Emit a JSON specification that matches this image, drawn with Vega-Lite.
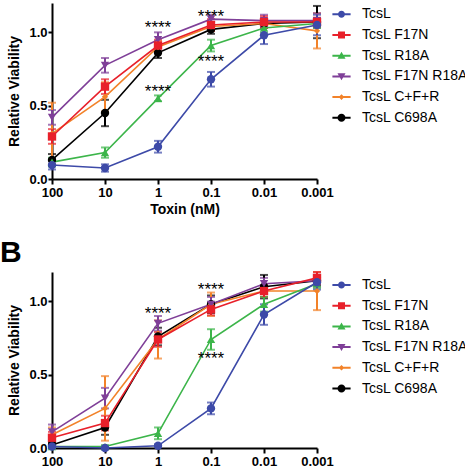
{
  "$schema": "https://vega.github.io/schema/vega-lite/v6.json",
  "padding": {"left": 0, "top": -31, "right": -4, "bottom": -31},
  "bounds": "flush",
  "spacing": 93,
  "config": {
    "view": {"stroke": null},
    "axis": {"grid": false, "domainColor": "black", "domainWidth": 2, "tickColor": "black", "tickWidth": 2, "tickSize": 5,
      "labelFont": "Liberation Sans", "labelFontWeight": "bold", "labelFontSize": 13, "labelColor": "black",
      "titleFont": "Liberation Sans", "titleFontWeight": "bold", "titleFontSize": 14, "titleColor": "black"},
    "legend": {"labelFont": "Liberation Sans", "labelFontSize": 14, "labelColor": "black", "symbolSize": 49, "symbolOpacity": 1, "padding": 0, "rowPadding": 6.7, "labelOffset": 13.5, "labelLimit": 300, "symbolStrokeWidth": 0},
    "title": {"font": "Liberation Sans", "fontSize": 30, "fontWeight": "bold", "color": "black", "anchor": "start", "frame": "group", "baseline": "alphabetic", "dx": -52}
  },
  "datasets": {
    "pts": [
      {"p": "A", "s": "TcsL C698A", "x": 100, "y": 0.13, "e": 0.04},
      {"p": "A", "s": "TcsL C698A", "x": 10, "y": 0.45, "e": 0.09},
      {"p": "A", "s": "TcsL C698A", "x": 1, "y": 0.86, "e": 0.035},
      {"p": "A", "s": "TcsL C698A", "x": 0.1, "y": 1.02, "e": 0.03},
      {"p": "A", "s": "TcsL C698A", "x": 0.01, "y": 1.06, "e": 0.03},
      {"p": "A", "s": "TcsL C698A", "x": 0.001, "y": 1.07, "e": 0.11},
      {"p": "A", "s": "TcsL C+F+R", "x": 100, "y": 0.31, "e": 0.21},
      {"p": "A", "s": "TcsL C+F+R", "x": 10, "y": 0.56, "e": 0.1},
      {"p": "A", "s": "TcsL C+F+R", "x": 1, "y": 0.9, "e": 0.04},
      {"p": "A", "s": "TcsL C+F+R", "x": 0.1, "y": 1.04, "e": 0.03},
      {"p": "A", "s": "TcsL C+F+R", "x": 0.01, "y": 1.06, "e": 0.03},
      {"p": "A", "s": "TcsL C+F+R", "x": 0.001, "y": 1.01, "e": 0.12},
      {"p": "A", "s": "TcsL F17N R18A", "x": 100, "y": 0.42, "e": 0.05},
      {"p": "A", "s": "TcsL F17N R18A", "x": 10, "y": 0.775, "e": 0.05},
      {"p": "A", "s": "TcsL F17N R18A", "x": 1, "y": 0.95, "e": 0.05},
      {"p": "A", "s": "TcsL F17N R18A", "x": 0.1, "y": 1.09, "e": 0.03},
      {"p": "A", "s": "TcsL F17N R18A", "x": 0.01, "y": 1.08, "e": 0.04},
      {"p": "A", "s": "TcsL F17N R18A", "x": 0.001, "y": 1.08, "e": 0.05},
      {"p": "A", "s": "TcsL R18A", "x": 100, "y": 0.115, "e": 0.03},
      {"p": "A", "s": "TcsL R18A", "x": 10, "y": 0.18, "e": 0.035},
      {"p": "A", "s": "TcsL R18A", "x": 1, "y": 0.55, "e": 0.02},
      {"p": "A", "s": "TcsL R18A", "x": 0.1, "y": 0.91, "e": 0.04},
      {"p": "A", "s": "TcsL R18A", "x": 0.01, "y": 1.03, "e": 0.03},
      {"p": "A", "s": "TcsL R18A", "x": 0.001, "y": 1.06, "e": 0.03},
      {"p": "A", "s": "TcsL F17N", "x": 100, "y": 0.29, "e": 0.05},
      {"p": "A", "s": "TcsL F17N", "x": 10, "y": 0.63, "e": 0.05},
      {"p": "A", "s": "TcsL F17N", "x": 1, "y": 0.91, "e": 0.04},
      {"p": "A", "s": "TcsL F17N", "x": 0.1, "y": 1.05, "e": 0.04},
      {"p": "A", "s": "TcsL F17N", "x": 0.01, "y": 1.07, "e": 0.04},
      {"p": "A", "s": "TcsL F17N", "x": 0.001, "y": 1.07, "e": 0.03},
      {"p": "A", "s": "TcsL", "x": 100, "y": 0.095, "e": 0.03},
      {"p": "A", "s": "TcsL", "x": 10, "y": 0.075, "e": 0.025},
      {"p": "A", "s": "TcsL", "x": 1, "y": 0.22, "e": 0.04},
      {"p": "A", "s": "TcsL", "x": 0.1, "y": 0.68, "e": 0.05},
      {"p": "A", "s": "TcsL", "x": 0.01, "y": 0.98, "e": 0.06},
      {"p": "A", "s": "TcsL", "x": 0.001, "y": 1.05, "e": 0.07},
      {"p": "B", "s": "TcsL C698A", "x": 100, "y": 0.02, "e": 0.02},
      {"p": "B", "s": "TcsL C698A", "x": 10, "y": 0.14, "e": 0.05},
      {"p": "B", "s": "TcsL C698A", "x": 1, "y": 0.76, "e": 0.06},
      {"p": "B", "s": "TcsL C698A", "x": 0.1, "y": 0.98, "e": 0.06},
      {"p": "B", "s": "TcsL C698A", "x": 0.01, "y": 1.1, "e": 0.08},
      {"p": "B", "s": "TcsL C698A", "x": 0.001, "y": 1.14, "e": 0.03},
      {"p": "B", "s": "TcsL C+F+R", "x": 100, "y": 0.09, "e": 0.05},
      {"p": "B", "s": "TcsL C+F+R", "x": 10, "y": 0.27, "e": 0.22},
      {"p": "B", "s": "TcsL C+F+R", "x": 1, "y": 0.74, "e": 0.13},
      {"p": "B", "s": "TcsL C+F+R", "x": 0.1, "y": 0.98, "e": 0.08},
      {"p": "B", "s": "TcsL C+F+R", "x": 0.01, "y": 1.07, "e": 0.04},
      {"p": "B", "s": "TcsL C+F+R", "x": 0.001, "y": 1.07, "e": 0.13},
      {"p": "B", "s": "TcsL F17N R18A", "x": 100, "y": 0.11, "e": 0.05},
      {"p": "B", "s": "TcsL F17N R18A", "x": 10, "y": 0.34, "e": 0.07},
      {"p": "B", "s": "TcsL F17N R18A", "x": 1, "y": 0.85, "e": 0.05},
      {"p": "B", "s": "TcsL F17N R18A", "x": 0.1, "y": 0.98, "e": 0.05},
      {"p": "B", "s": "TcsL F17N R18A", "x": 0.01, "y": 1.12, "e": 0.04},
      {"p": "B", "s": "TcsL F17N R18A", "x": 0.001, "y": 1.14, "e": 0.04},
      {"p": "B", "s": "TcsL R18A", "x": 100, "y": 0.01, "e": 0.01},
      {"p": "B", "s": "TcsL R18A", "x": 10, "y": 0.01, "e": 0.01},
      {"p": "B", "s": "TcsL R18A", "x": 1, "y": 0.1, "e": 0.04},
      {"p": "B", "s": "TcsL R18A", "x": 0.1, "y": 0.74, "e": 0.07},
      {"p": "B", "s": "TcsL R18A", "x": 0.01, "y": 0.98, "e": 0.05},
      {"p": "B", "s": "TcsL R18A", "x": 0.001, "y": 1.12, "e": 0.03},
      {"p": "B", "s": "TcsL F17N", "x": 100, "y": 0.07, "e": 0.04},
      {"p": "B", "s": "TcsL F17N", "x": 10, "y": 0.17, "e": 0.05},
      {"p": "B", "s": "TcsL F17N", "x": 1, "y": 0.74, "e": 0.05},
      {"p": "B", "s": "TcsL F17N", "x": 0.1, "y": 0.945, "e": 0.04},
      {"p": "B", "s": "TcsL F17N", "x": 0.01, "y": 1.07, "e": 0.04},
      {"p": "B", "s": "TcsL F17N", "x": 0.001, "y": 1.16, "e": 0.04},
      {"p": "B", "s": "TcsL", "x": 100, "y": 0.01, "e": 0.01},
      {"p": "B", "s": "TcsL", "x": 10, "y": 0.0, "e": 0.01},
      {"p": "B", "s": "TcsL", "x": 1, "y": 0.015, "e": 0.01},
      {"p": "B", "s": "TcsL", "x": 0.1, "y": 0.27, "e": 0.04},
      {"p": "B", "s": "TcsL", "x": 0.01, "y": 0.91, "e": 0.07},
      {"p": "B", "s": "TcsL", "x": 0.001, "y": 1.13, "e": 0.05}
    ],
    "stars": [
      {"p": "A", "x": 1, "y": 1.06, "t": "****"},
      {"p": "A", "x": 0.1, "y": 1.13, "t": "****"},
      {"p": "A", "x": 1, "y": 0.62, "t": "****"},
      {"p": "A", "x": 0.1, "y": 0.825, "t": "****"},
      {"p": "B", "x": 1, "y": 0.943, "t": "****"},
      {"p": "B", "x": 0.1, "y": 1.107, "t": "****"},
      {"p": "B", "x": 0.1, "y": 0.634, "t": "****"}
    ]
  },
  "resolve": {"scale": {"color": "independent", "shape": "independent"}, "legend": {"color": "independent", "shape": "independent"}},
  "vconcat": [
    {
      "title": {"text": "A", "offset": 4},
      "width": 265, "height": 176,
      "resolve": {"scale": {"shape": "independent", "color": "independent"}, "legend": {"shape": "independent", "color": "independent"}},
      "layer": [
        {"data": {"name": "pts"}, "transform": [{"filter": "datum.p === 'A'"}],
         "mark": {"type": "errorbar", "ticks": true, "size": 8, "thickness": 2},
         "encoding": {
           "x": {"field": "x", "type": "quantitative", "scale": {"type": "log", "domain": [0.001, 100], "reverse": true, "nice": false}, "axis": {"title": "Toxin (nM)", "values": [100, 10, 1, 0.1, 0.01, 0.001], "format": "~g", "labelPadding": 2, "titlePadding": 3, "labelFlush": false, "labelOverlap": false}},
           "y": {"field": "y", "type": "quantitative", "scale": {"domain": [0, 1.2], "nice": false}, "axis": {"title": "Relative Viability", "values": [0, 0.5, 1], "format": ".1f", "tickSize": 4, "labelPadding": 1, "titlePadding": 7}},
           "yError": {"field": "e"},
           "color": {"field": "s", "type": "nominal", "scale": {"domain": ["TcsL", "TcsL F17N", "TcsL R18A", "TcsL F17N R18A", "TcsL C+F+R", "TcsL C698A"], "range": ["#3d4aa8", "#e8202a", "#3cb54a", "#7f3f98", "#f28229", "#000000"]}, "legend": null}
         }},
        {"data": {"name": "pts"}, "transform": [{"filter": "datum.p === 'A'"}],
         "mark": {"type": "line", "strokeWidth": 1.6},
         "encoding": {
           "x": {"field": "x", "type": "quantitative"},
           "y": {"field": "y", "type": "quantitative"},
           "color": {"field": "s", "type": "nominal", "scale": {"domain": ["TcsL", "TcsL F17N", "TcsL R18A", "TcsL F17N R18A", "TcsL C+F+R", "TcsL C698A"], "range": ["#3d4aa8", "#e8202a", "#3cb54a", "#7f3f98", "#f28229", "#000000"]}, "legend": null}
         }},
        {"data": {"name": "pts"}, "transform": [{"filter": "datum.p === 'A'"}],
         "mark": {"type": "point", "filled": true, "opacity": 1, "size": 70},
         "encoding": {
           "x": {"field": "x", "type": "quantitative"},
           "y": {"field": "y", "type": "quantitative"},
           "shape": {"field": "s", "type": "nominal", "scale": {"domain": ["TcsL", "TcsL F17N", "TcsL R18A", "TcsL F17N R18A", "TcsL C+F+R", "TcsL C698A"], "range": ["circle", "square", "triangle-up", "triangle-down", "M0,-0.75L0.75,0L0,0.75L-0.75,0Z", "circle"]}, "legend": null},
           "color": {"field": "s", "type": "nominal", "scale": {"domain": ["TcsL", "TcsL F17N", "TcsL R18A", "TcsL F17N R18A", "TcsL C+F+R", "TcsL C698A"], "range": ["#3d4aa8", "#e8202a", "#3cb54a", "#7f3f98", "#f28229", "#000000"]}, "legend": null}
         }},
        {"data": {"name": "pts"}, "transform": [{"filter": "datum.p === 'A'"}],
         "mark": {"type": "point", "filled": true, "opacity": 0},
         "encoding": {
           "x": {"field": "x", "type": "quantitative"},
           "y": {"field": "y", "type": "quantitative"},
           "shape": {"field": "s", "type": "nominal", "scale": {"domain": ["TcsL", "TcsL F17N", "TcsL R18A", "TcsL F17N R18A", "TcsL C+F+R", "TcsL C698A"], "range": ["M-2.6,-0.28H2.6V0.28H-2.6Z M-1,0A1,1,0,1,1,1,0A1,1,0,1,1,-1,0Z", "M-2.6,-0.28H2.6V0.28H-2.6Z M-1,-1H1V1H-1Z", "M-2.6,-0.28H2.6V0.28H-2.6Z M0,-1.1L1.15,0.9H-1.15Z", "M-2.6,-0.28H2.6V0.28H-2.6Z M0,1.1L-1.15,-0.9H1.15Z", "M-2.6,-0.28H2.6V0.28H-2.6Z M0,-0.8L0.8,0L0,0.8L-0.8,0Z", "M-2.6,-0.28H2.6V0.28H-2.6Z M-1.15,0A1.15,1.15,0,1,1,1.15,0A1.15,1.15,0,1,1,-1.15,0Z"]}, "legend": {"orient": "none", "legendX": 282.5, "legendY": 4.3, "title": null}},
           "color": {"field": "s", "type": "nominal", "scale": {"domain": ["TcsL", "TcsL F17N", "TcsL R18A", "TcsL F17N R18A", "TcsL C+F+R", "TcsL C698A"], "range": ["#3d4aa8", "#e8202a", "#3cb54a", "#7f3f98", "#f28229", "#000000"]}, "legend": {"orient": "none", "legendX": 282.5, "legendY": 4.3, "title": null}}
         }},
        {"data": {"name": "stars"}, "transform": [{"filter": "datum.p === 'A'"}],
         "mark": {"type": "text", "font": "Liberation Sans", "fontSize": 17, "color": "black", "baseline": "middle", "dy": 4},
         "encoding": {
           "x": {"field": "x", "type": "quantitative"},
           "y": {"field": "y", "type": "quantitative"},
           "text": {"field": "t"}
         }}
      ]
    },
    {
      "title": {"text": "B", "offset": 3},
      "width": 265, "height": 176,
      "resolve": {"scale": {"shape": "independent", "color": "independent"}, "legend": {"shape": "independent", "color": "independent"}},
      "layer": [
        {"data": {"name": "pts"}, "transform": [{"filter": "datum.p === 'B'"}],
         "mark": {"type": "errorbar", "ticks": true, "size": 8, "thickness": 2},
         "encoding": {
           "x": {"field": "x", "type": "quantitative", "scale": {"type": "log", "domain": [0.001, 100], "reverse": true, "nice": false}, "axis": {"title": "Toxin (nM)", "values": [100, 10, 1, 0.1, 0.01, 0.001], "format": "~g", "labelPadding": 2, "titlePadding": 20, "labelFlush": false, "labelOverlap": false}},
           "y": {"field": "y", "type": "quantitative", "scale": {"domain": [0, 1.2], "nice": false}, "axis": {"title": "Relative Viability", "values": [0, 0.5, 1], "format": ".1f", "tickSize": 4, "labelPadding": 1, "titlePadding": 7}},
           "yError": {"field": "e"},
           "color": {"field": "s", "type": "nominal", "scale": {"domain": ["TcsL", "TcsL F17N", "TcsL R18A", "TcsL F17N R18A", "TcsL C+F+R", "TcsL C698A"], "range": ["#3d4aa8", "#e8202a", "#3cb54a", "#7f3f98", "#f28229", "#000000"]}, "legend": null}
         }},
        {"data": {"name": "pts"}, "transform": [{"filter": "datum.p === 'B'"}],
         "mark": {"type": "line", "strokeWidth": 1.6},
         "encoding": {
           "x": {"field": "x", "type": "quantitative"},
           "y": {"field": "y", "type": "quantitative"},
           "color": {"field": "s", "type": "nominal", "scale": {"domain": ["TcsL", "TcsL F17N", "TcsL R18A", "TcsL F17N R18A", "TcsL C+F+R", "TcsL C698A"], "range": ["#3d4aa8", "#e8202a", "#3cb54a", "#7f3f98", "#f28229", "#000000"]}, "legend": null}
         }},
        {"data": {"name": "pts"}, "transform": [{"filter": "datum.p === 'B'"}],
         "mark": {"type": "point", "filled": true, "opacity": 1, "size": 70},
         "encoding": {
           "x": {"field": "x", "type": "quantitative"},
           "y": {"field": "y", "type": "quantitative"},
           "shape": {"field": "s", "type": "nominal", "scale": {"domain": ["TcsL", "TcsL F17N", "TcsL R18A", "TcsL F17N R18A", "TcsL C+F+R", "TcsL C698A"], "range": ["circle", "square", "triangle-up", "triangle-down", "M0,-0.75L0.75,0L0,0.75L-0.75,0Z", "circle"]}, "legend": null},
           "color": {"field": "s", "type": "nominal", "scale": {"domain": ["TcsL", "TcsL F17N", "TcsL R18A", "TcsL F17N R18A", "TcsL C+F+R", "TcsL C698A"], "range": ["#3d4aa8", "#e8202a", "#3cb54a", "#7f3f98", "#f28229", "#000000"]}, "legend": null}
         }},
        {"data": {"name": "pts"}, "transform": [{"filter": "datum.p === 'B'"}],
         "mark": {"type": "point", "filled": true, "opacity": 0},
         "encoding": {
           "x": {"field": "x", "type": "quantitative"},
           "y": {"field": "y", "type": "quantitative"},
           "shape": {"field": "s", "type": "nominal", "scale": {"domain": ["TcsL", "TcsL F17N", "TcsL R18A", "TcsL F17N R18A", "TcsL C+F+R", "TcsL C698A"], "range": ["M-2.6,-0.28H2.6V0.28H-2.6Z M-1,0A1,1,0,1,1,1,0A1,1,0,1,1,-1,0Z", "M-2.6,-0.28H2.6V0.28H-2.6Z M-1,-1H1V1H-1Z", "M-2.6,-0.28H2.6V0.28H-2.6Z M0,-1.1L1.15,0.9H-1.15Z", "M-2.6,-0.28H2.6V0.28H-2.6Z M0,1.1L-1.15,-0.9H1.15Z", "M-2.6,-0.28H2.6V0.28H-2.6Z M0,-0.8L0.8,0L0,0.8L-0.8,0Z", "M-2.6,-0.28H2.6V0.28H-2.6Z M-1.15,0A1.15,1.15,0,1,1,1.15,0A1.15,1.15,0,1,1,-1.15,0Z"]}, "legend": {"orient": "none", "legendX": 282.5, "legendY": 6, "title": null}},
           "color": {"field": "s", "type": "nominal", "scale": {"domain": ["TcsL", "TcsL F17N", "TcsL R18A", "TcsL F17N R18A", "TcsL C+F+R", "TcsL C698A"], "range": ["#3d4aa8", "#e8202a", "#3cb54a", "#7f3f98", "#f28229", "#000000"]}, "legend": {"orient": "none", "legendX": 282.5, "legendY": 6, "title": null}}
         }},
        {"data": {"name": "stars"}, "transform": [{"filter": "datum.p === 'B'"}],
         "mark": {"type": "text", "font": "Liberation Sans", "fontSize": 17, "color": "black", "baseline": "middle", "dy": 4},
         "encoding": {
           "x": {"field": "x", "type": "quantitative"},
           "y": {"field": "y", "type": "quantitative"},
           "text": {"field": "t"}
         }}
      ]
    }
  ]
}
